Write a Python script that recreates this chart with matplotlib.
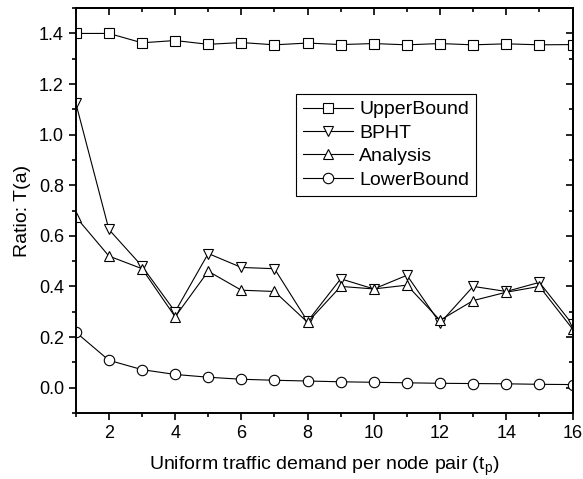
import matplotlib
matplotlib.use("Agg")
import matplotlib.pyplot as plt
from matplotlib.ticker import MultipleLocator

plt.rcParams["font.family"] = ["Liberation Sans", "DejaVu Sans"]

demand = list(range(1, 17))
upper_bound = [1.40, 1.40, 1.363, 1.372, 1.357, 1.364, 1.355, 1.362, 1.356, 1.360,
               1.355, 1.360, 1.355, 1.359, 1.355, 1.356]
bpht = [1.125, 0.625, 0.48, 0.30, 0.53, 0.475, 0.47, 0.262, 0.43, 0.39,
        0.444, 0.255, 0.40, 0.38, 0.416, 0.25]
analysis = [0.675, 0.52, 0.47, 0.28, 0.46, 0.385, 0.38, 0.258, 0.40, 0.39,
            0.405, 0.266, 0.344, 0.377, 0.40, 0.232]
lower_bound = [0.219, 0.108, 0.071, 0.052, 0.041, 0.033, 0.029, 0.026, 0.023, 0.021,
               0.019, 0.017, 0.016, 0.015, 0.013, 0.012]

series = [
    ("UpperBound", upper_bound, "s"),
    ("BPHT", bpht, "v"),
    ("Analysis", analysis, "^"),
    ("LowerBound", lower_bound, "o"),
]

fig = plt.figure(figsize=(5.83, 4.79), dpi=100)
ax = fig.add_axes([0.130, 0.138, 0.852, 0.845])

for label, values, marker in series:
    ax.plot(demand, values, color="black", lw=0.8, marker=marker, markersize=7.5,
            markerfacecolor="white", markeredgecolor="black", markeredgewidth=0.8,
            label=label)

ax.set_xlim(1, 16)
ax.set_ylim(-0.1, 1.5)
ax.xaxis.set_major_locator(MultipleLocator(2))
ax.xaxis.set_minor_locator(MultipleLocator(1))
ax.set_yticks([0.0, 0.2, 0.4, 0.6, 0.8, 1.0, 1.2, 1.4])
ax.yaxis.set_minor_locator(MultipleLocator(0.1))

for spine in ax.spines.values():
    spine.set_linewidth(1.4)

ax.tick_params(which="both", direction="out", top=False, right=False, width=1.2,
               labelsize=13)
ax.tick_params(which="major", length=5)
ax.tick_params(which="minor", length=3)

# mirrored inward ticks on top and right
sec_x = ax.secondary_xaxis("top")
sec_x.xaxis.set_major_locator(MultipleLocator(2))
sec_x.xaxis.set_minor_locator(MultipleLocator(1))
sec_x.tick_params(which="both", direction="in", labeltop=False, width=1.2)
sec_x.tick_params(which="major", length=5)
sec_x.tick_params(which="minor", length=3)
sec_x.spines["top"].set_linewidth(1.4)
sec_y = ax.secondary_yaxis("right")
sec_y.yaxis.set_major_locator(MultipleLocator(0.2))
sec_y.yaxis.set_minor_locator(MultipleLocator(0.1))
sec_y.tick_params(which="both", direction="in", labelright=False, width=1.2)
sec_y.tick_params(which="major", length=5)
sec_y.tick_params(which="minor", length=3)
sec_y.spines["right"].set_linewidth(1.4)

ax.set_xlabel("Uniform traffic demand per node pair (t$_\\mathregular{p}$)", fontsize=14,
              labelpad=9)
ax.set_ylabel("Ratio: T(a)", fontsize=14, labelpad=6)

ax.legend(loc="upper left", bbox_to_anchor=(0.443, 0.788), fontsize=14, frameon=True,
          fancybox=False, edgecolor="black", handlelength=2.6, handletextpad=0.3,
          labelspacing=0.3, borderpad=0.35, borderaxespad=0, framealpha=1)
ax.get_legend().get_frame().set_linewidth(0.8)

fig.savefig("out.png", dpi=100)
